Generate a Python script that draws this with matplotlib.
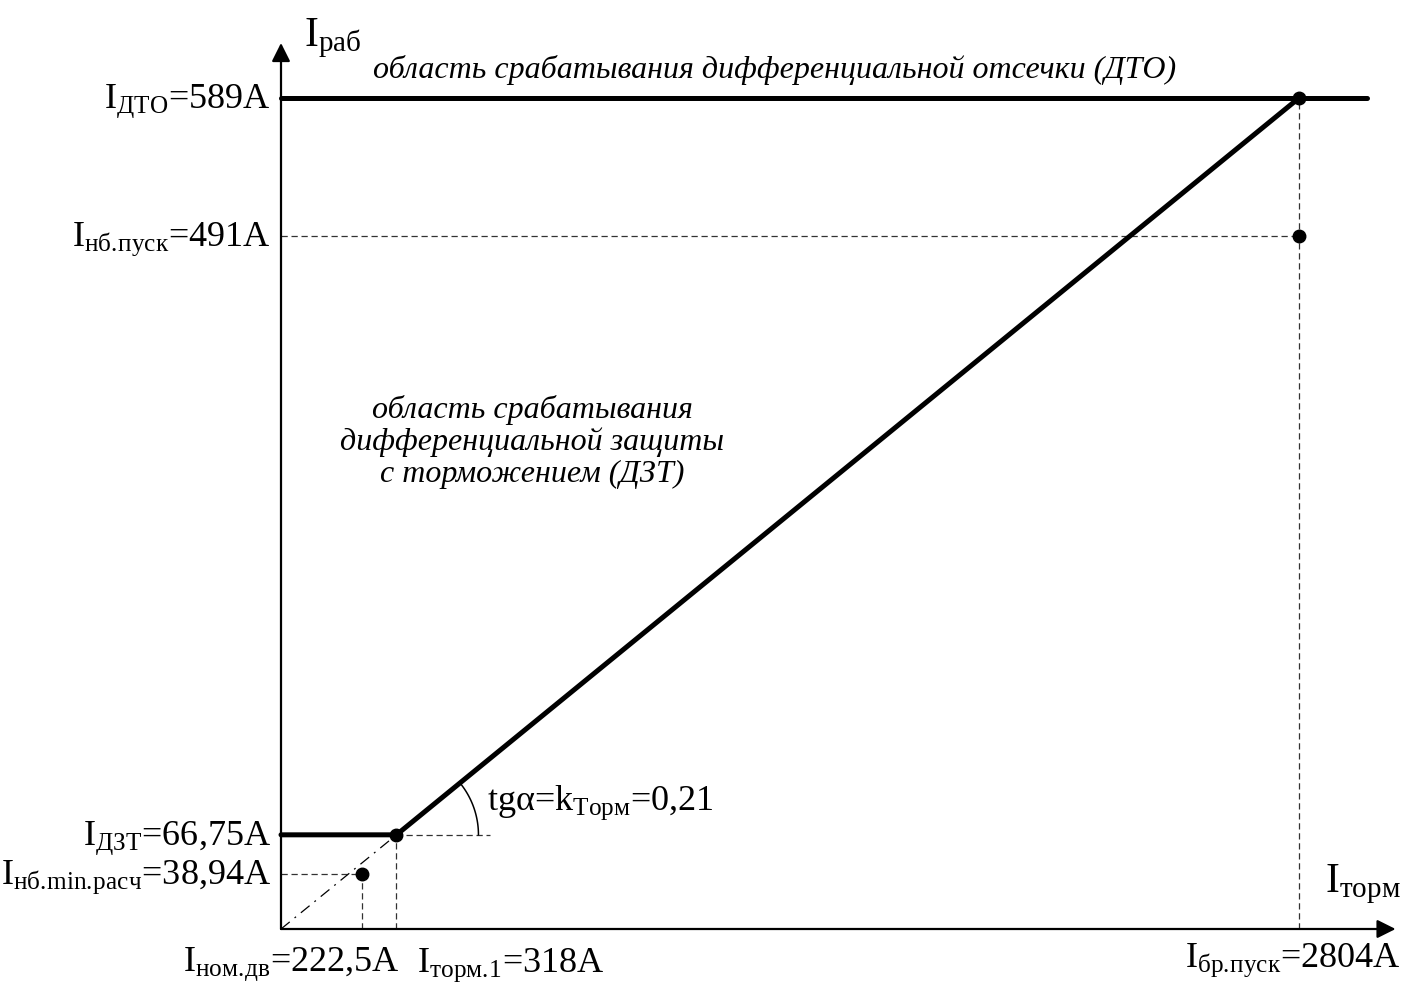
import numpy as np
import matplotlib
matplotlib.use("Agg")
import matplotlib.pyplot as plt

plt.rcParams['font.family'] = ['Liberation Serif', 'DejaVu Serif']
plt.rcParams['mathtext.fontset'] = 'custom'
plt.rcParams['mathtext.rm'] = 'Liberation Serif'
plt.rcParams['mathtext.it'] = 'Liberation Serif:italic'

# characteristic values, A
i_dto = 589
i_nb_pusk = 491
i_dzt = 66.75
i_nb_min = 38.94
i_nom_dv = 222.5
i_torm1 = 318
i_br_pusk = 2804
k_torm = 0.21

# how far the lines/axes run past the last point (schematic)
x_line_end = 2990
x_axis_end = 3070
y_axis_end = 628
x_tang_end = 575

W, H = 1421, 983
fig = plt.figure(figsize=(W / 100, H / 100), dpi=100)
ax = fig.add_axes([0, 0, 1, 1])

# pixel scale of the schematic
sx = 1018 / i_br_pusk
sy = 831 / i_dto
x0, y0 = 281, 929
ax.set_xlim(-x0 / sx, (W - x0) / sx)
ax.set_ylim(-(H - y0) / sy, y0 / sy)
ax.axis('off')


def px(x, y):
    return x / W, 1 - y / H


def sub(s):
    # mathtext puts a thin space after every dot, take it back
    return s.replace('.', r'.\!')


# axes with arrows
ax.annotate('', xy=(0, y_axis_end), xytext=(0, 0),
            arrowprops=dict(arrowstyle='-|>', mutation_scale=28, lw=1.6, color='k',
                            shrinkA=0, shrinkB=0))
ax.annotate('', xy=(x_axis_end, 0), xytext=(0, 0),
            arrowprops=dict(arrowstyle='-|>', mutation_scale=28, lw=1.6, color='k',
                            shrinkA=0, shrinkB=0))

# dashed helper lines
dash = dict(color='#333333', lw=0.9, dashes=(5, 3))
ax.plot([0, i_br_pusk], [i_nb_pusk, i_nb_pusk], **dash)
ax.plot([i_br_pusk, i_br_pusk], [0, i_dto], **dash)
ax.plot([i_torm1, i_torm1], [0, i_dzt], **dash)
ax.plot([i_torm1, x_tang_end], [i_dzt, i_dzt], **dash)
ax.plot([0, i_nom_dv], [i_nb_min, i_nb_min], **dash)
ax.plot([i_nom_dv, i_nom_dv], [0, i_nb_min], **dash)
ax.plot([0, i_torm1], [0, i_dzt], color='k', lw=0.9, dashes=(9, 5, 1.5, 5))

# operating characteristic
ax.plot([0, x_line_end], [i_dto, i_dto], color='k', lw=3.6,
        solid_capstyle='round')
ax.plot([0, i_torm1, i_br_pusk], [i_dzt, i_dzt, i_dto], color='k', lw=3.6,
        solid_capstyle='round', solid_joinstyle='round')

# points
ax.plot([i_torm1, i_br_pusk, i_br_pusk, i_nom_dv],
        [i_dzt, i_dto, i_nb_pusk, i_nb_min], 'o', color='k', ms=9)

# angle arc
ang = np.arctan2((i_dto - i_dzt) * sy, (i_br_pusk - i_torm1) * sx)
t = np.linspace(0, ang * 0.97, 40)
r = 82
ax.plot(i_torm1 + r * np.cos(t) / sx, i_dzt + r * np.sin(t) / sy, color='k', lw=1.1)

fs = 26
# y labels
for val, name in [(i_dto, 'ДТО'), (i_nb_pusk, 'нб.пуск'),
                  (i_dzt, 'ДЗТ'), (i_nb_min, 'нб.min.расч')]:
    lab = r'$\mathregular{I_{%s}}$=%sA' % (sub(name), ('%g' % val).replace('.', ','))
    ax.annotate(lab, xy=(0, val), xytext=(-10, -3), textcoords='offset pixels',
                ha='right', va='center', fontsize=fs)

# x labels
ax.annotate(r'$\mathregular{I_{%s}}$=222,5A' % sub('ном.дв'), xy=(i_nom_dv, 0),
            xytext=(38, -36), textcoords='offset pixels', ha='right', va='center',
            fontsize=fs)
ax.annotate(r'$\mathregular{I_{%s}}$=318A' % sub('торм.1'), xy=(i_torm1, 0),
            xytext=(21, -36), textcoords='offset pixels', ha='left', va='center',
            fontsize=fs)
ax.annotate(r'$\mathregular{I_{%s}}$=2804A' % sub('бр.пуск'), xy=(i_br_pusk, 0),
            xytext=(-6, -31), textcoords='offset pixels', ha='center', va='center',
            fontsize=fs)

# axis names
fig.text(*px(304, 38), r'$\mathregular{I_{раб}}$', ha='left', va='center', fontsize=30)
fig.text(*px(1325, 884), r'$\mathregular{I_{торм}}$', ha='left', va='center', fontsize=30)

# slope
fig.text(*px(487, 803), r'tgα=$\mathregular{k_{Торм}}$=' + str(k_torm).replace('.', ','),
         ha='left', va='center', fontsize=26)

# regions
fig.text(*px(775, 70), 'область срабатывания дифференциальной отсечки (ДТО)',
         ha='center', va='center', fontsize=23, style='italic')
fig.text(*px(532, 442), 'область срабатывания\nдифференциальной защиты\nс торможением (ДЗТ)',
         ha='center', va='center', fontsize=23, style='italic', linespacing=1.12)

fig.savefig('out.png', dpi=100)
